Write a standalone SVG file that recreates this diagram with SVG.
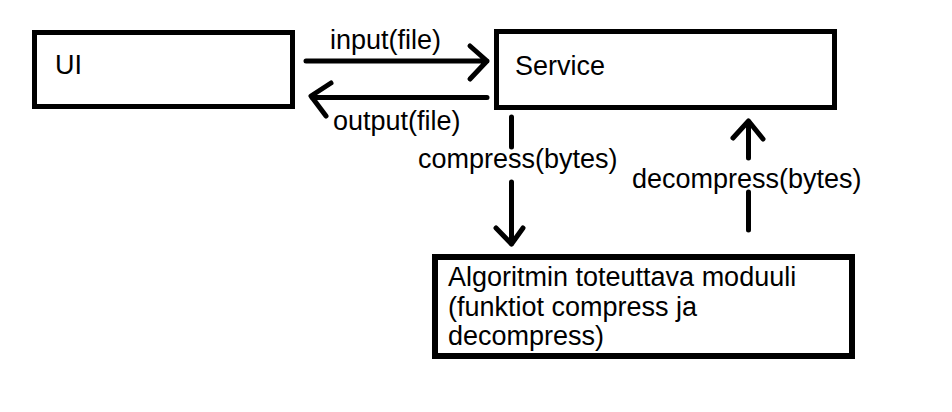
<svg xmlns="http://www.w3.org/2000/svg" width="952" height="412" viewBox="0 0 952 412">
  <style>
    .box { fill: #ffffff; stroke: #000000; stroke-width: 5; }
    .lbl { font-family: "Liberation Sans", Arial, sans-serif; font-size: 27px; fill: #000000; }
    .edge { fill: none; stroke: #000000; stroke-width: 5; stroke-linecap: round; stroke-linejoin: round; }
  </style>
  <rect width="952" height="412" fill="#ffffff"/>
  <g id="node-ui">
    <rect class="box" x="34.5" y="32.5" width="258" height="74"/>
    <text class="lbl" x="55" y="74">UI</text>
  </g>
  <g id="node-service">
    <rect class="box" x="496.5" y="31.5" width="338" height="76"/>
    <text class="lbl" x="515" y="75">Service</text>
  </g>
  <g id="node-module">
    <rect class="box" x="435" y="257" width="417" height="99" style="stroke-width:6"/>
    <text class="lbl" x="448" y="286">Algoritmin toteuttava moduuli</text>
    <text class="lbl" x="448" y="316">(funktiot compress ja</text>
    <text class="lbl" x="448" y="345">decompress)</text>
  </g>
  <g id="connectors">
    <g id="edge-input">
      <path class="edge" d="M306 61 L487 61 M470 46 L487 61 L470 79"/>
      <text class="lbl" x="330" y="49">input(file)</text>
    </g>
    <g id="edge-output">
      <path class="edge" d="M487 97.5 L312 97.5 M331 83 L311 96 L326 116"/>
      <text class="lbl" x="333" y="130">output(file)</text>
    </g>
    <g id="edge-compress">
      <path class="edge" d="M511.5 117 L511.5 147 M511.5 182 L511.5 244 M496 228 L511.5 244 L523 228"/>
      <text class="lbl" x="418" y="168">compress(bytes)</text>
    </g>
    <g id="edge-decompress">
      <path class="edge" d="M748.5 230 L748.5 192 M748.5 158 L748.5 121 M733 138 L748.5 121 L763 139"/>
      <text class="lbl" x="632" y="188">decompress(bytes)</text>
    </g>
  </g>
</svg>
